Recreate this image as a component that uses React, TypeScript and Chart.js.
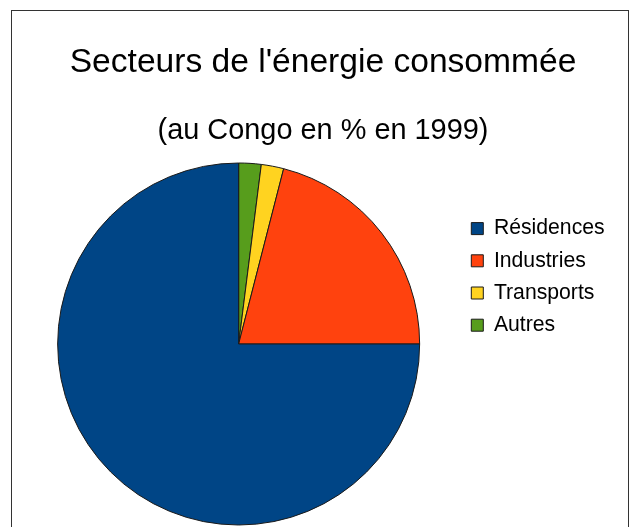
import { useEffect, useRef } from 'react';
import { Chart, registerables, layouts } from 'chart.js';

Chart.register(...registerables);

const categories = ['Résidences', 'Industries', 'Transports', 'Autres'];
const values = [75, 21, 2, 2];
const colors = ['#004586', '#ff420e', '#ffd320', '#579d1c'];
const titleText = "Secteurs de l'énergie consommée";
const subtitleText = '(au Congo en % en 1999)';

const FONT = "'Liberation Sans', Arial, sans-serif";
const LEGEND_SIZE = 21.2;
const LEGEND_PAD = 11;
const LEGEND_BOX = 12;

function measureSpacer(): number {
  const c = document.createElement('canvas').getContext('2d');
  if (!c) return 17;
  c.font = `${LEGEND_SIZE}px ${FONT}`;
  const tw = Math.max(...categories.map((t) => c.measureText(t).width));
  const legendW = LEGEND_PAD + LEGEND_BOX + LEGEND_SIZE / 2 + tw + 10;
  return Math.max(0, 170 - legendW);
}

const framePlugin = {
  id: 'frame',
  beforeDraw(chart: any) {
    const ctx = chart.ctx;
    ctx.save();
    ctx.fillStyle = '#ffffff';
    ctx.fillRect(0, 0, chart.width, chart.height);
    ctx.strokeStyle = '#333333';
    ctx.lineWidth = 1;
    ctx.strokeRect(11.5, 10.5, 617, 600);
    ctx.restore();
  },
};

const makeSpacerPlugin = (w: number) => ({
  id: 'rightSpacer',
  beforeInit(chart: any) {
    const box: any = {
      position: 'right',
      weight: 5000,
      fullSize: false,
      options: {},
      left: 0,
      top: 0,
      right: 0,
      bottom: 0,
      width: 0,
      height: 0,
      update(_maxW: number, maxH: number) {
        this.width = w;
        this.height = maxH;
      },
      isHorizontal() {
        return false;
      },
      draw() {},
    };
    layouts.addBox(chart, box);
  },
});

export default function App() {
  const ref = useRef<HTMLCanvasElement>(null);
  useEffect(() => {
    const spacer = measureSpacer();
    const chart = new Chart(ref.current as HTMLCanvasElement, {
      type: 'pie',
      data: {
        labels: [...categories].reverse(),
        datasets: [
          {
            data: [...values].reverse(),
            backgroundColor: [...colors].reverse(),
            borderColor: '#1a1a1a',
            borderWidth: 1,
            radius: 181,
          } as any,
        ],
      },
      options: {
        responsive: false,
        animation: false,
        devicePixelRatio: 1,
        layout: { padding: { left: 17, right: 6, top: 0, bottom: 2 } },
        plugins: {
          title: {
            display: true,
            text: titleText,
            color: '#000',
            font: { family: FONT, size: 33.6, weight: 'normal', lineHeight: 1.2 },
            padding: { top: 43, bottom: 0 },
          },
          subtitle: {
            display: true,
            text: subtitleText,
            color: '#000',
            font: { family: FONT, size: 28.9, weight: 'normal', lineHeight: 1.2 },
            padding: { top: 30.3, bottom: 14.7 },
          },
          legend: {
            position: 'right',
            align: 'start',
            fullSize: false,
            reverse: true,
            title: {
              display: true,
              text: '',
              font: { size: 10, lineHeight: 1 },
              padding: { top: 34, bottom: 0 },
            },
            labels: {
              color: '#000',
              font: { family: FONT, size: LEGEND_SIZE },
              boxWidth: LEGEND_BOX,
              boxHeight: LEGEND_BOX,
              padding: LEGEND_PAD,
            },
          },
          tooltip: { enabled: false },
        },
      } as any,
      plugins: [framePlugin, makeSpacerPlugin(spacer)],
    });
    return () => chart.destroy();
  }, []);
  return (
    <div style={{ position: 'absolute', left: 0, top: 0, width: 635, height: 527, background: '#fff' }}>
      <canvas ref={ref} width={635} height={527} style={{ display: 'block' }} />
    </div>
  );
}
